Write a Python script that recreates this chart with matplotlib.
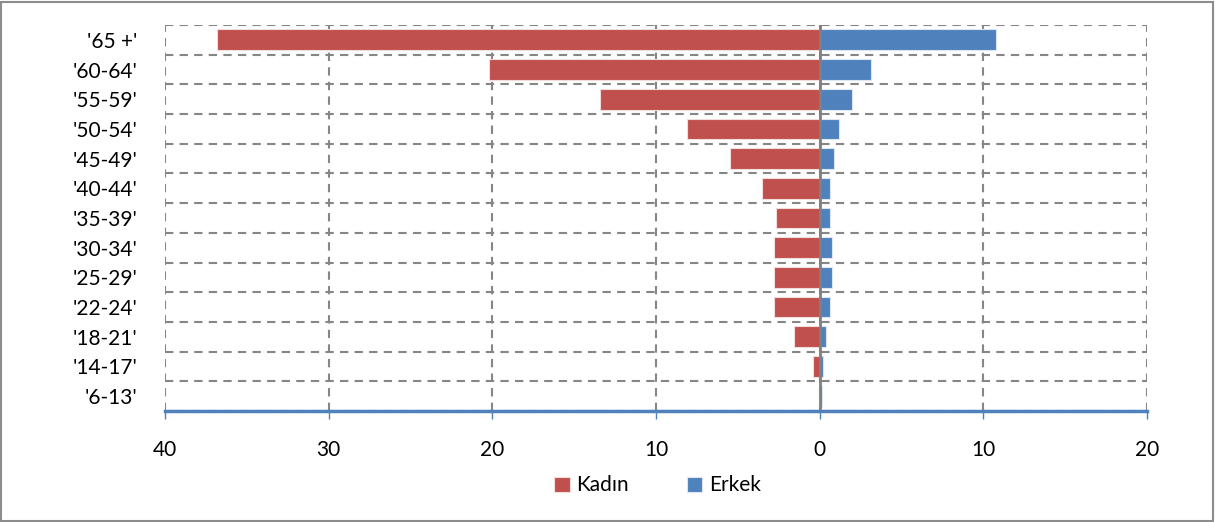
import numpy as np
import matplotlib.pyplot as plt
from matplotlib.patches import Rectangle
from matplotlib.ticker import FuncFormatter, MultipleLocator

plt.rcParams['font.family'] = ['Lato', 'DejaVu Sans']

# age groups from bottom to top
groups = ["'6-13'", "'14-17'", "'18-21'", "'22-24'", "'25-29'", "'30-34'",
          "'35-39'", "'40-44'", "'45-49'", "'50-54'", "'55-59'", "'60-64'", "'65 +'"]
kadin = [0.02, 0.4, 1.6, 2.8, 2.8, 2.8, 2.7, 3.5, 5.5, 8.1, 13.4, 20.2, 36.8]
erkek = [0.15, 0.18, 0.4, 0.65, 0.75, 0.75, 0.65, 0.65, 0.9, 1.15, 1.95, 3.15, 10.75]

red = '#C0504D'
blue = '#4F81BD'
grid_col = '#868686'

fig = plt.figure(figsize=(12.15, 5.22), dpi=100)
ax = fig.add_axes([0.1358, 0.2126, 0.8083, 0.7395])

y = np.arange(len(groups))
ax.barh(y, [-v for v in kadin], height=0.7, color=red, edgecolor='#F2DCDB',
        linewidth=0.8, label='Kadın', zorder=3)
ax.barh(y, erkek, height=0.7, color=blue, edgecolor='#DCE6F2',
        linewidth=0.8, label='Erkek', zorder=3)

ax.set_xlim(-40, 20)
ax.set_ylim(-0.5, len(groups) - 0.5)
ax.xaxis.set_major_locator(MultipleLocator(10))
ax.xaxis.set_major_formatter(FuncFormatter(lambda v, p: f'{abs(v):.0f}'))
ax.set_yticks(y)
ax.set_yticklabels(groups)
ax.set_yticks(np.arange(-0.5, len(groups), 1.0), minor=True)

ax.grid(axis='x', which='major', color=grid_col, linestyle=(0, (4, 3)), linewidth=1.5, zorder=0)
ax.grid(axis='y', which='minor', color=grid_col, linestyle=(0, (4, 3)), linewidth=1.5, zorder=0)
ax.grid(axis='y', which='major', visible=False)
ax.axvline(0, color='#808080', linewidth=2, zorder=4)

for s in ['top', 'right', 'left']:
    ax.spines[s].set_visible(False)
ax.spines['bottom'].set_color(blue)
ax.spines['bottom'].set_linewidth(2.5)
ax.spines['bottom'].set_zorder(5)

ax.tick_params(axis='x', which='major', color=blue, length=6, width=1,
               labelsize=15, pad=15)
ax.tick_params(axis='y', which='both', length=0, labelsize=15, pad=20)

fig.legend(loc='center', bbox_to_anchor=(0.541, 0.07), ncol=2, frameon=False,
           fontsize=15, handlelength=0.75, handleheight=0.75, handletextpad=0.3,
           columnspacing=2.8)

fig.patches.append(Rectangle((0.001, 0.002), 0.997, 0.995, transform=fig.transFigure,
                             fill=False, edgecolor='#8C8C8C', linewidth=1.5))

fig.savefig('out.png', dpi=100)
